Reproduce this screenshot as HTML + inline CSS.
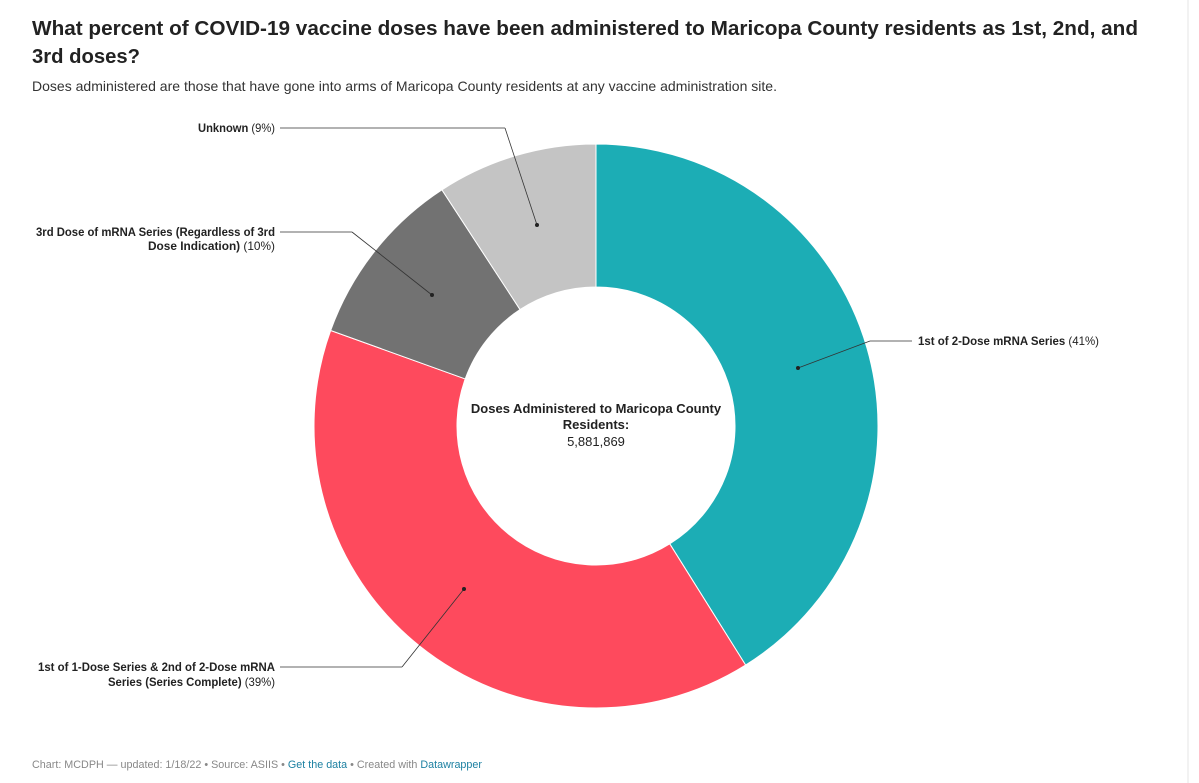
<!DOCTYPE html>
<html><head><meta charset="utf-8"><style>
html,body{margin:0;padding:0;background:#fff;width:1199px;height:783px;overflow:hidden}
svg{display:block;font-family:"Liberation Sans",Arial,sans-serif}
</style></head><body>
<svg id="chart" width="1199" height="783" viewBox="0 0 1199 783">
<line x1="1188" y1="0" x2="1188" y2="783" stroke="#e4e4e4"/>
<text x="32" y="35" font-size="20" font-weight="bold" fill="#222" textLength="1106" lengthAdjust="spacingAndGlyphs">What percent of COVID-19 vaccine doses have been administered to Maricopa County residents as 1st, 2nd, and</text>
<text x="32" y="63" font-size="20" font-weight="bold" fill="#222" textLength="108" lengthAdjust="spacingAndGlyphs">3rd doses?</text>
<text x="32" y="91" font-size="14" fill="#333" textLength="745" lengthAdjust="spacingAndGlyphs">Doses administered are those that have gone into arms of Maricopa County residents at any vaccine administration site.</text>
<g id="slices"></g>
<g id="labels" font-size="12" fill="#222">
<line x1="280" y1="128" x2="505" y2="128" stroke="#333" stroke-width="0.8"/><line x1="505" y1="128" x2="537" y2="225" stroke="#333" stroke-width="0.8"/><circle cx="537" cy="225" r="2" fill="#222"/>
<text x="275" y="132" text-anchor="end" textLength="77" lengthAdjust="spacingAndGlyphs"><tspan font-weight="bold">Unknown</tspan> (9%)</text>
<line x1="280" y1="232" x2="352" y2="232" stroke="#333" stroke-width="0.8"/><line x1="352" y1="232" x2="432" y2="295" stroke="#333" stroke-width="0.8"/><circle cx="432" cy="295" r="2" fill="#222"/>
<text x="275" y="236" text-anchor="end" font-weight="bold" textLength="239" lengthAdjust="spacingAndGlyphs">3rd Dose of mRNA Series (Regardless of 3rd</text>
<text x="275" y="250" text-anchor="end" textLength="127" lengthAdjust="spacingAndGlyphs"><tspan font-weight="bold">Dose Indication)</tspan> (10%)</text>
<line x1="798" y1="368" x2="870" y2="341" stroke="#333" stroke-width="0.8"/><line x1="870" y1="341" x2="912" y2="341" stroke="#333" stroke-width="0.8"/><circle cx="798" cy="368" r="2" fill="#222"/>
<text x="918" y="345" textLength="181" lengthAdjust="spacingAndGlyphs"><tspan font-weight="bold">1st of 2-Dose mRNA Series</tspan> (41%)</text>
<line x1="280" y1="667" x2="402" y2="667" stroke="#333" stroke-width="0.8"/><line x1="402" y1="667" x2="464" y2="589" stroke="#333" stroke-width="0.8"/><circle cx="464" cy="589" r="2" fill="#222"/>
<text x="275" y="671" text-anchor="end" font-weight="bold" textLength="237" lengthAdjust="spacingAndGlyphs">1st of 1-Dose Series &amp; 2nd of 2-Dose mRNA</text>
<text x="275" y="686" text-anchor="end" textLength="167" lengthAdjust="spacingAndGlyphs"><tspan font-weight="bold">Series (Series Complete)</tspan> (39%)</text>
</g>
<text x="596" y="413" text-anchor="middle" font-size="13" font-weight="bold" fill="#222">Doses Administered to Maricopa County</text>
<text x="596" y="429" text-anchor="middle" font-size="13" font-weight="bold" fill="#222">Residents:</text>
<text x="596" y="446" text-anchor="middle" font-size="13" fill="#222">5,881,869</text>
<text x="32" y="768" font-size="11" fill="#888" textLength="450" lengthAdjust="spacingAndGlyphs">Chart: MCDPH — updated: 1/18/22 • Source: ASIIS • <tspan fill="#1d81a2">Get the data</tspan> • Created with <tspan fill="#1d81a2">Datawrapper</tspan></text>
</svg>
<script>
const categories = ["1st of 2-Dose mRNA Series","1st of 1-Dose Series & 2nd of 2-Dose mRNA Series","3rd Dose of mRNA Series","Unknown"];
const values = [41.1, 39.4, 10.3, 9.2];
const colors = ["#1cadb5","#fe4a5d","#727272","#c4c4c4"];
const cx = 596, cy = 426, R = 282, r = 139;
const g = document.getElementById('slices');
const total = values.reduce((a,b)=>a+b,0);
function pt(a, rad){ return [cx + rad*Math.sin(a), cy - rad*Math.cos(a)]; }
let acc = 0;
values.forEach((v,i)=>{
  const a0 = acc/total*2*Math.PI; acc += v; const a1 = acc/total*2*Math.PI;
  const large = (a1-a0) > Math.PI ? 1 : 0;
  const p0 = pt(a0,R), p1 = pt(a1,R), q1 = pt(a1,r), q0 = pt(a0,r);
  const p = document.createElementNS('http://www.w3.org/2000/svg','path');
  p.setAttribute('d', `M${p0[0]},${p0[1]} A${R},${R} 0 ${large} 1 ${p1[0]},${p1[1]} L${q1[0]},${q1[1]} A${r},${r} 0 ${large} 0 ${q0[0]},${q0[1]} Z`);
  p.setAttribute('fill', colors[i]);
  p.setAttribute('stroke', '#fff');
  p.setAttribute('stroke-width', '1');
  
  
  g.appendChild(p);
});
</script>
</body></html>
